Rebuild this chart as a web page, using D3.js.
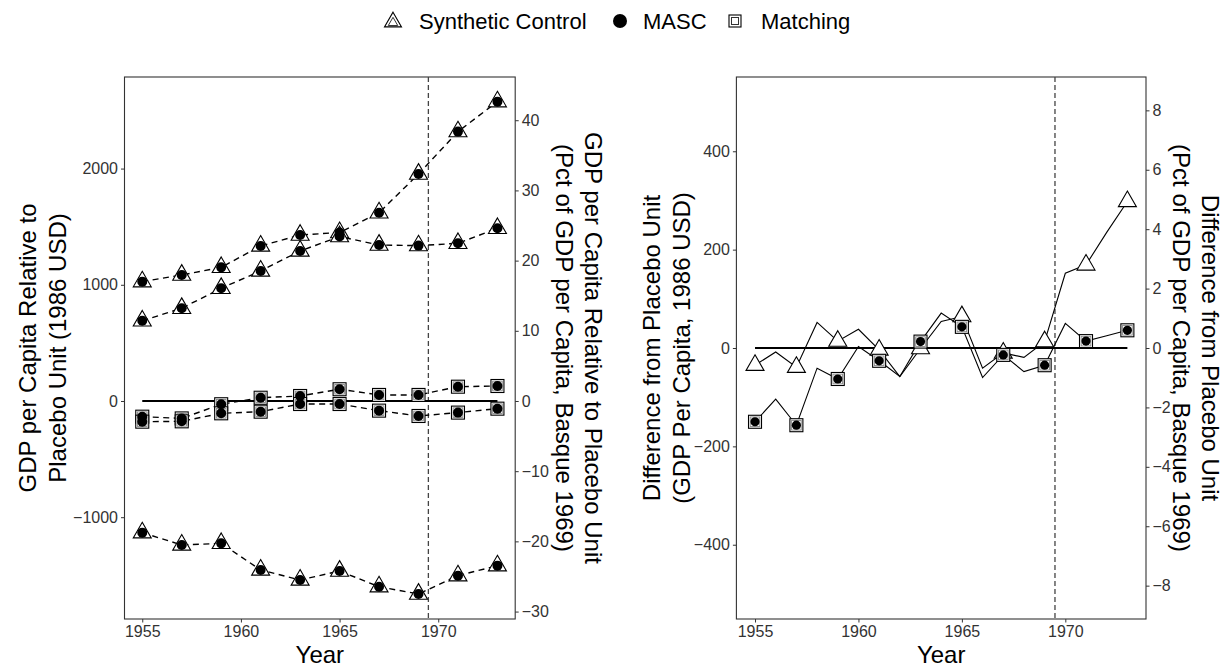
<!DOCTYPE html>
<html><head><meta charset="utf-8">
<script src="https://cdn.jsdelivr.net/npm/d3@7"></script>
<style>
body{margin:0;background:#fff;}
svg{display:block;}
text{font-family:'Liberation Sans',Arial,Helvetica,sans-serif;}
</style>
</head><body>
<svg id="chart" width="1230" height="669"></svg>
<script>
// ---------------- DATA ----------------
const markerYears = [1955,1957,1959,1961,1963,1965,1967,1969,1971,1973];
const annualYears = [1955,1956,1957,1958,1959,1960,1961,1962,1963,1964,1965,1966,1967,1968,1969,1970,1971,1972,1973];

// Left panel: GDP per capita relative to placebo unit (1986 USD)
const leftSynthA = [1027, 1084, 1150, 1334, 1428, 1450, 1620, 1953, 2318, 2576];
const leftSynthB = [690, 798, 970, 1119, 1291, 1415, 1342, 1337, 1357, 1486];
const leftSynthC = [-1133, -1239, -1225, -1454, -1540, -1463, -1598, -1661, -1503, -1417];
const leftMatchD = [-135, -150, -28, 28, 43, 101, 52, 52, 123, 129];
const leftMatchE = [-178, -175, -106, -92, -26, -26, -83, -129, -100, -66];

// Right panel: difference from placebo unit (1986 USD)
const rightSynth = [-35, -8, -39, 52, 14, 38, -4, -58, -1, 54, 64, -41, -10, -19, 13, 152, 169, 235, 298];
const rightMASC  = [-150, -104, -157, -41, -63, 3, -26, -58, 13, 71, 43, -60, -14, -48, -35, 50, 14, 25, 36];

const basque1969 = 6040; // GDP per capita, Basque 1969 (for pct secondary axis)
const treatmentYear = 1969.5;

const xTicks = [1955, 1960, 1965, 1970];
const leftYTicks = [-1000, 0, 1000, 2000];
const leftPctTicks = [-30, -20, -10, 0, 10, 20, 30, 40];
const rightYTicks = [-400, -200, 0, 200, 400];
const rightPctTicks = [-8, -6, -4, -2, 0, 2, 4, 6, 8];

const legendItems = ["Synthetic Control", "MASC", "Matching"];

// ---------------- LAYOUT ----------------
const svg = d3.select("#chart");
const plotTop = 77, plotBottom = 619;
const P1 = {x0: 124.5, x1: 515.2, yDomain: [-1876, 2788], pct: leftPctTicks, yt: leftYTicks};
const P2 = {x0: 736.4, x1: 1146, yDomain: [-551, 551], pct: rightPctTicks, yt: rightYTicks};
const tickFont = 16, titleFont = 24;
const axisColor = "#333";

function tri(cx, cy, s) {
  const r = s / Math.sqrt(3);
  return `M${cx},${cy - r}L${cx + s/2},${cy + r/2}L${cx - s/2},${cy + r/2}Z`;
}

function drawPanel(P) {
  const x = d3.scaleLinear().domain([1954.1, 1973.9]).range([P.x0, P.x1]);
  const y = d3.scaleLinear().domain(P.yDomain).range([plotBottom, plotTop]);
  const yPct = d3.scaleLinear().domain(P.yDomain.map(v => v / basque1969 * 100)).range([plotBottom, plotTop]);
  const g = svg.append("g");

  const ax = g.append("g").attr("transform", `translate(0,${plotBottom})`)
    .call(d3.axisBottom(x).tickValues(xTicks).tickFormat(d3.format("d")).tickSize(3.5).tickPadding(3));
  const ay = g.append("g").attr("transform", `translate(${P.x0},0)`)
    .call(d3.axisLeft(y).tickValues(P.yt).tickFormat(d3.format("d")).tickSize(3.5).tickPadding(3));
  const ay2 = g.append("g").attr("transform", `translate(${P.x1},0)`)
    .call(d3.axisRight(yPct).tickValues(P.pct).tickFormat(d3.format("d")).tickSize(3.5).tickPadding(3));
  [ax, ay, ay2].forEach(a => {
    a.select(".domain").remove();
    a.selectAll(".tick line").attr("stroke", axisColor).attr("stroke-width", 1);
    a.selectAll(".tick text").attr("font-size", tickFont).attr("fill", axisColor)
      .attr("font-family", "'Liberation Sans',Arial,Helvetica,sans-serif");
  });

  g.append("rect").attr("x", P.x0).attr("y", plotTop).attr("width", P.x1 - P.x0).attr("height", plotBottom - plotTop)
    .attr("fill", "none").attr("stroke", axisColor).attr("stroke-width", 1.1);

  g.append("line").attr("x1", x(treatmentYear)).attr("x2", x(treatmentYear))
    .attr("y1", plotTop).attr("y2", plotBottom).attr("stroke", "#444").attr("stroke-width", 1.3)
    .attr("stroke-dasharray", "5,3");

  g.append("line").attr("x1", x(1955)).attr("x2", x(1973)).attr("y1", y(0)).attr("y2", y(0))
    .attr("stroke", "#000").attr("stroke-width", 2.2);

  g.append("text").attr("x", (P.x0 + P.x1) / 2).attr("y", 663).attr("text-anchor", "middle")
    .attr("font-size", titleFont).attr("fill", "#000").text("Year");
  return {x, y, g};
}

function drawTriangle(g, cx, cy) {
  g.append("path").attr("d", tri(cx, cy, 18)).attr("fill", "#fff").attr("stroke", "#000").attr("stroke-width", 1.1);
}
function drawSquare(g, cx, cy) {
  g.append("rect").attr("x", cx - 6.5).attr("y", cy - 6.5).attr("width", 13).attr("height", 13)
    .attr("fill", "#fff").attr("stroke", "#000").attr("stroke-width", 1.1);
  g.append("rect").attr("x", cx - 4.8).attr("y", cy - 4.8).attr("width", 9.6).attr("height", 9.6)
    .attr("fill", "none").attr("stroke", "#888").attr("stroke-width", 0.9);
}
function drawDot(g, cx, cy, r) {
  g.append("circle").attr("cx", cx).attr("cy", cy).attr("r", r || 5).attr("fill", "#000");
}
function vTitle(g, x, cy, rot, txt) {
  g.append("text").attr("transform", `translate(${x},${cy}) rotate(${rot})`).attr("text-anchor", "middle")
    .attr("dominant-baseline", "central").attr("font-size", titleFont).text(txt);
}

// ---------------- LEFT PANEL ----------------
(function() {
  const {x, y, g} = drawPanel(P1);
  const line = d3.line().x((d, i) => x(markerYears[i])).y(d => y(d));
  const synth = [leftSynthA, leftSynthB, leftSynthC];
  const match = [leftMatchD, leftMatchE];
  [...synth, ...match].forEach(s => {
    g.append("path").attr("d", line(s)).attr("fill", "none").attr("stroke", "#000")
      .attr("stroke-width", 1.4).attr("stroke-dasharray", "6,4.5");
  });
  synth.forEach(s => s.forEach((v, i) => { drawTriangle(g, x(markerYears[i]), y(v)); }));
  match.forEach(s => s.forEach((v, i) => { drawSquare(g, x(markerYears[i]), y(v)); }));
  [...synth, ...match].forEach(s => s.forEach((v, i) => drawDot(g, x(markerYears[i]), y(v), 5)));

  const cy = (plotTop + plotBottom) / 2;
  vTitle(g, 27, cy, -90, "GDP per Capita Relative to");
  vTitle(g, 57, cy, -90, "Placebo Unit (1986 USD)");
  vTitle(g, 593, cy, 90, "GDP per Capita Relative to Placebo Unit");
  vTitle(g, 564, cy, 90, "(Pct of GDP per Capita, Basque 1969)");
})();

// ---------------- RIGHT PANEL ----------------
(function() {
  const {x, y, g} = drawPanel(P2);
  const line = d3.line().x((d, i) => x(annualYears[i])).y(d => y(d));
  [rightSynth, rightMASC].forEach(s => {
    g.append("path").attr("d", line(s)).attr("fill", "none").attr("stroke", "#000").attr("stroke-width", 1.1);
  });
  annualYears.forEach((yr, i) => {
    if (markerYears.includes(yr)) drawTriangle(g, x(yr), y(rightSynth[i]));
  });
  annualYears.forEach((yr, i) => {
    if (markerYears.includes(yr)) { drawSquare(g, x(yr), y(rightMASC[i])); drawDot(g, x(yr), y(rightMASC[i]), 4.6); }
  });
  const cy = (plotTop + plotBottom) / 2;
  vTitle(g, 651, cy, -90, "Difference from Placebo Unit");
  vTitle(g, 681, cy, -90, "(GDP Per Capita, 1986 USD)");
  vTitle(g, 1210, cy, 90, "Difference from Placebo Unit");
  vTitle(g, 1181, cy, 90, "(Pct of GDP per Capita, Basque 1969)");
})();

// ---------------- LEGEND ----------------
(function() {
  const g = svg.append("g");
  const ly = 21;
  g.append("path").attr("d", tri(393, ly + 1, 17)).attr("fill", "#fff").attr("stroke", "#000").attr("stroke-width", 1.1);
  g.append("path").attr("d", tri(393, ly + 1.8, 9.5)).attr("fill", "none").attr("stroke", "#333").attr("stroke-width", 1);
  g.append("text").attr("x", 419).attr("y", ly).attr("dominant-baseline", "central").attr("font-size", 22).text(legendItems[0]);
  g.append("circle").attr("cx", 620).attr("cy", ly).attr("r", 7).attr("fill", "#000");
  g.append("text").attr("x", 643).attr("y", ly).attr("dominant-baseline", "central").attr("font-size", 22).text(legendItems[1]);
  g.append("rect").attr("x", 735 - 6).attr("y", ly - 6).attr("width", 12).attr("height", 12)
    .attr("fill", "#fff").attr("stroke", "#000").attr("stroke-width", 1.1);
  g.append("rect").attr("x", 735 - 3.5).attr("y", ly - 3.5).attr("width", 7).attr("height", 7)
    .attr("fill", "none").attr("stroke", "#333").attr("stroke-width", 1);
  g.append("text").attr("x", 761).attr("y", ly).attr("dominant-baseline", "central").attr("font-size", 22).text(legendItems[2]);
})();
</script>
</body></html>
